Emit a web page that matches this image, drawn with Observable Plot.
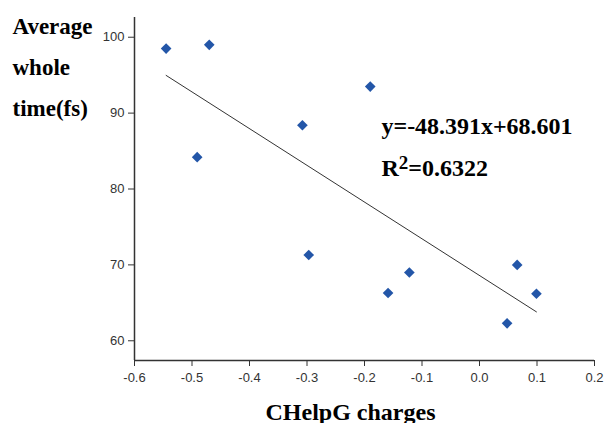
<!DOCTYPE html>
<html>
<head>
<meta charset="utf-8">
<script src="https://cdn.jsdelivr.net/npm/d3@7"></script>
<script src="https://cdn.jsdelivr.net/npm/@observablehq/plot@0.6"></script>
<style>
  html, body { margin: 0; padding: 0; background: #fff; }
  #chart { width: 605px; height: 423px; }
</style>
</head>
<body>
<div id="chart"></div>
<script>
// Data
const chargeValues = [-0.545, -0.470, -0.491, -0.308, -0.190, -0.297, -0.159, -0.122, 0.0655, 0.048, 0.099];
const timeValues   = [98.5, 99.0, 84.2, 88.4, 93.5, 71.3, 66.3, 69.0, 70.0, 62.3, 66.2];
const trendX = [-0.545, 0.099];
const trendY = [94.97, 63.81];
const xTicks = [-0.6, -0.5, -0.4, -0.3, -0.2, -0.1, 0.0, 0.1, 0.2];
const yTicks = [60, 70, 80, 90, 100];
const yLabelLines = ["Average", "whole", "time(fs)"];
const xLabel = "CHelpG charges";
const equationText = "y=-48.391x+68.601";
const r2Text = "R2=0.6322";

const points = chargeValues.map((x, i) => ({x, y: timeValues[i]}));
const trend = trendX.map((x, i) => ({x, y: trendY[i]}));

const serif = "'Liberation Serif', 'Times New Roman', serif";
const sans = "'Liberation Sans', Arial, sans-serif";

const plot = Plot.plot({
  width: 605,
  height: 423,
  marginLeft: 134,
  marginRight: 11,
  marginTop: 17,
  marginBottom: 63,
  style: {fontFamily: sans, fontSize: "13px", color: "#333", background: "#fff"},
  x: {domain: [-0.6, 0.2]},
  y: {domain: [57.4, 102.6]},
  marks: [
    Plot.ruleX([-0.6], {stroke: "#333", strokeWidth: 1.5}),
    Plot.ruleY([57.4], {stroke: "#333", strokeWidth: 1.5}),
    Plot.axisX(xTicks, {tickSize: 6, tickPadding: 6, fontSize: 13, stroke: "#333", fill: "#333",
      tickFormat: d => d.toFixed(1), label: null}),
    Plot.axisY(yTicks, {tickSize: 6, tickPadding: 4, fontSize: 13, stroke: "#333", fill: "#333",
      tickFormat: d => String(d), label: null}),
    Plot.line(trend, {x: "x", y: "y", stroke: "#333", strokeWidth: 1}),
    Plot.dot(points, {x: "x", y: "y", symbol: "diamond2", r: 4.8, fill: "#2356a8", stroke: "none"}),
    ...yLabelLines.map((t, i) => Plot.text([t], {
      text: d => d, frameAnchor: "top-left", dx: -122, dy: i * 41,
      textAnchor: "start", lineAnchor: "top", fontSize: 23, fontWeight: "bold",
      fontFamily: serif, fill: "#000"
    })),
    Plot.text([xLabel], {
      text: d => d, frameAnchor: "bottom", dx: -14, dy: 59,
      textAnchor: "middle", lineAnchor: "bottom", fontSize: 24, fontWeight: "bold",
      fontFamily: serif, fill: "#000"
    }),
    Plot.text([equationText], {
      text: d => d, frameAnchor: "top-left", dx: 247, dy: 116,
      textAnchor: "start", lineAnchor: "bottom", fontSize: 23, fontWeight: "bold",
      fontFamily: serif, fill: "#000", className: "eq"
    }),
    Plot.text([r2Text], {
      text: d => d, frameAnchor: "top-left", dx: 247, dy: 158,
      textAnchor: "start", lineAnchor: "bottom", fontSize: 24, fontWeight: "bold",
      fontFamily: serif, fill: "#000", className: "r2"
    })
  ]
});

document.getElementById("chart").appendChild(plot);

// Stretch equation to its width in the reference
d3.select(plot).selectAll(".eq text")
  .attr("textLength", 191)
  .attr("lengthAdjust", "spacingAndGlyphs");

// Superscript 2 in R²
d3.select(plot).selectAll(".r2 text").each(function () {
  const t = d3.select(this);
  const full = t.text();
  t.text(null);
  t.append("tspan").text(full.slice(0, 1));
  t.append("tspan").attr("dy", -7).attr("font-size", 19).text(full.slice(1, 2));
  t.append("tspan").attr("dy", 7).text(full.slice(2));
});
</script>
</body>
</html>
